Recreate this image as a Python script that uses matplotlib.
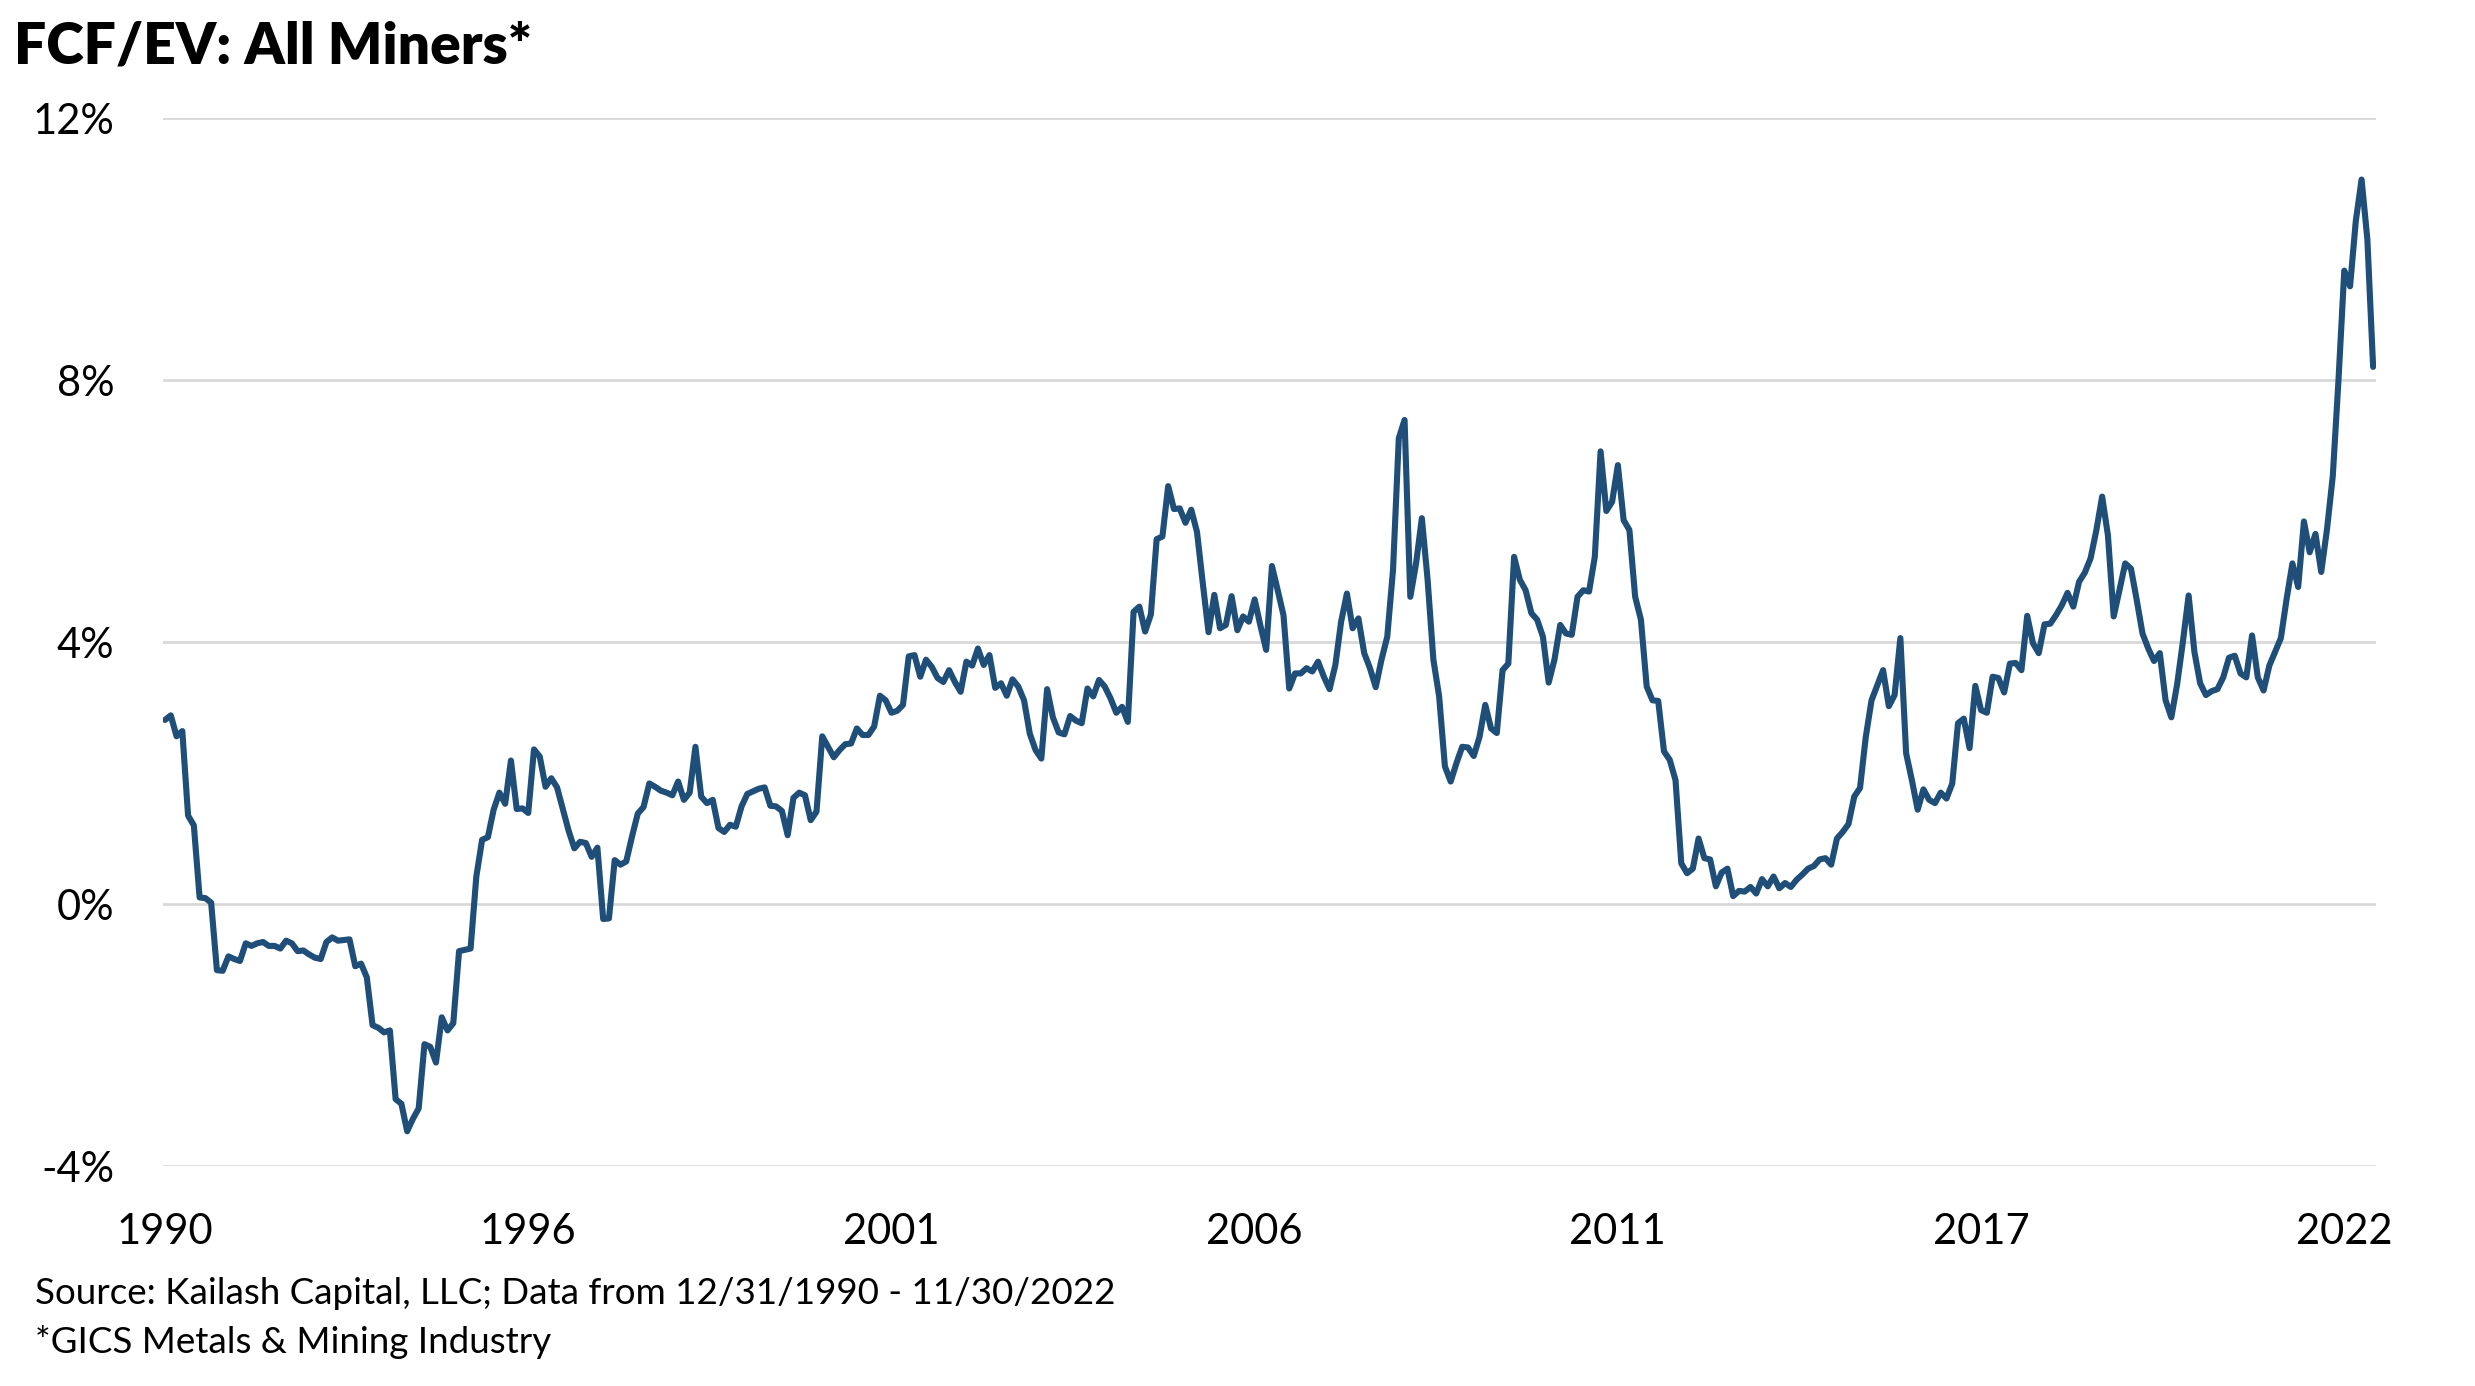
import numpy as np
import matplotlib.pyplot as plt
from matplotlib.ticker import FuncFormatter

# monthly FCF/EV (%), 12/1990 .. 11/2022
fcf_ev = [
    2.81, 2.88, 2.56, 2.64, 1.35, 1.20, 0.10, 0.09, 0.02, -1.01,
    -1.02, -0.80, -0.84, -0.87, -0.60, -0.64, -0.60, -0.58, -0.64, -0.64,
    -0.68, -0.56, -0.60, -0.72, -0.71, -0.77, -0.82, -0.84, -0.58, -0.51,
    -0.56, -0.55, -0.54, -0.95, -0.91, -1.12, -1.85, -1.89, -1.96, -1.93,
    -2.98, -3.05, -3.47, -3.28, -3.12, -2.14, -2.18, -2.42, -1.73, -1.93,
    -1.82, -0.72, -0.70, -0.68, 0.42, 0.98, 1.02, 1.44, 1.70, 1.53,
    2.19, 1.45, 1.46, 1.39, 2.36, 2.25, 1.79, 1.92, 1.78, 1.45,
    1.12, 0.85, 0.95, 0.93, 0.72, 0.86, -0.23, -0.22, 0.67, 0.60,
    0.65, 1.03, 1.38, 1.48, 1.84, 1.79, 1.73, 1.70, 1.66, 1.87,
    1.59, 1.70, 2.40, 1.64, 1.54, 1.59, 1.16, 1.10, 1.21, 1.18,
    1.49, 1.68, 1.72, 1.76, 1.78, 1.50, 1.49, 1.42, 1.05, 1.62,
    1.70, 1.66, 1.28, 1.41, 2.56, 2.40, 2.24, 2.35, 2.44, 2.45,
    2.68, 2.58, 2.58, 2.71, 3.18, 3.11, 2.92, 2.95, 3.04, 3.78,
    3.80, 3.47, 3.73, 3.62, 3.45, 3.39, 3.57, 3.39, 3.24, 3.70,
    3.64, 3.90, 3.65, 3.80, 3.30, 3.37, 3.18, 3.43, 3.32, 3.11,
    2.60, 2.35, 2.22, 3.28, 2.85, 2.62, 2.59, 2.87, 2.80, 2.76,
    3.29, 3.17, 3.42, 3.32, 3.14, 2.92, 3.01, 2.78, 4.46, 4.54,
    4.16, 4.42, 5.57, 5.61, 6.38, 6.03, 6.04, 5.82, 6.02, 5.68,
    4.90, 4.15, 4.72, 4.21, 4.26, 4.70, 4.18, 4.39, 4.31, 4.65,
    4.25, 3.88, 5.16, 4.79, 4.41, 3.29, 3.52, 3.52, 3.60, 3.55,
    3.70, 3.47, 3.28, 3.65, 4.31, 4.74, 4.21, 4.36, 3.83, 3.60,
    3.31, 3.73, 4.08, 5.10, 7.11, 7.39, 4.69, 5.20, 5.89, 4.95,
    3.73, 3.17, 2.10, 1.87, 2.15, 2.40, 2.39, 2.26, 2.55, 3.04,
    2.68, 2.61, 3.57, 3.67, 5.30, 4.95, 4.79, 4.44, 4.34, 4.08,
    3.38, 3.73, 4.26, 4.13, 4.11, 4.69, 4.79, 4.77, 5.30, 6.91,
    6.00, 6.14, 6.70, 5.86, 5.71, 4.69, 4.34, 3.32, 3.11, 3.10,
    2.33, 2.20, 1.89, 0.62, 0.47, 0.54, 1.00, 0.70, 0.68, 0.27,
    0.48, 0.54, 0.12, 0.20, 0.19, 0.26, 0.16, 0.38, 0.27, 0.42,
    0.24, 0.32, 0.26, 0.37, 0.45, 0.54, 0.58, 0.68, 0.70, 0.60,
    1.00, 1.10, 1.22, 1.64, 1.77, 2.55, 3.11, 3.34, 3.57, 3.02,
    3.19, 4.06, 2.30, 1.89, 1.44, 1.75, 1.59, 1.54, 1.70, 1.61,
    1.84, 2.76, 2.83, 2.38, 3.33, 2.96, 2.92, 3.47, 3.45, 3.23,
    3.67, 3.68, 3.57, 4.40, 3.98, 3.83, 4.27, 4.28, 4.41, 4.56,
    4.75, 4.54, 4.92, 5.06, 5.28, 5.71, 6.22, 5.63, 4.39, 4.79,
    5.20, 5.12, 4.64, 4.13, 3.90, 3.71, 3.83, 3.11, 2.85, 3.35,
    4.00, 4.71, 3.85, 3.37, 3.19, 3.25, 3.28, 3.46, 3.76, 3.79,
    3.52, 3.46, 4.10, 3.46, 3.26, 3.64, 3.85, 4.06, 4.66, 5.20,
    4.84, 5.84, 5.37, 5.65, 5.07, 5.72, 6.53, 8.01, 9.67, 9.43,
    10.43, 11.06, 10.15, 8.20,
]
year_labels = ["1990", "1996", "2001", "2006", "2011", "2017", "2022"]
y_ticks = [-4, 0, 4, 8, 12]

title = "FCF/EV: All Miners*"
source = "Source: Kailash Capital, LLC; Data from 12/31/1990 - 11/30/2022"
note = "*GICS Metals & Mining Industry"

plt.rcParams['font.family'] = ['Lato', 'DejaVu Sans']

W, H = 2475, 1386
fig = plt.figure(figsize=(W / 100, H / 100), dpi=100)
ax = fig.add_axes([163 / W, 1 - 1166 / H, (2376 - 163) / W, 1048 / H])

x = np.arange(len(fcf_ev))
ax.plot(x, fcf_ev, color="#1F4E79", lw=4.4, solid_joinstyle="round",
        solid_capstyle="round", zorder=3)

ax.set_xlim(-0.35, len(fcf_ev) - 0.5)
ax.set_ylim(-4, 12)
ax.set_yticks(y_ticks)
ax.yaxis.set_major_formatter(FuncFormatter(lambda v, p: f"{v:.0f}%"))
ax.set_xticks(x[::63])
ax.set_xticklabels(year_labels)

ax.grid(axis="y", color="#D9D9D9", lw=2)
ax.set_axisbelow(True)
for s in ax.spines.values():
    s.set_visible(False)
ax.tick_params(axis="both", length=0, labelsize=30, colors="black")
ax.tick_params(axis="y", pad=35)
ax.tick_params(axis="x", pad=34)

fig.text(14 / W, 1 - 47 / H, title, fontsize=41, fontweight="heavy", va="center")
fig.text(35 / W, 1 - 1293 / H, source, fontsize=26.5, va="center")
fig.text(35 / W, 1 - 1342 / H, note, fontsize=26.5, va="center")

fig.savefig("out.png", dpi=100)
